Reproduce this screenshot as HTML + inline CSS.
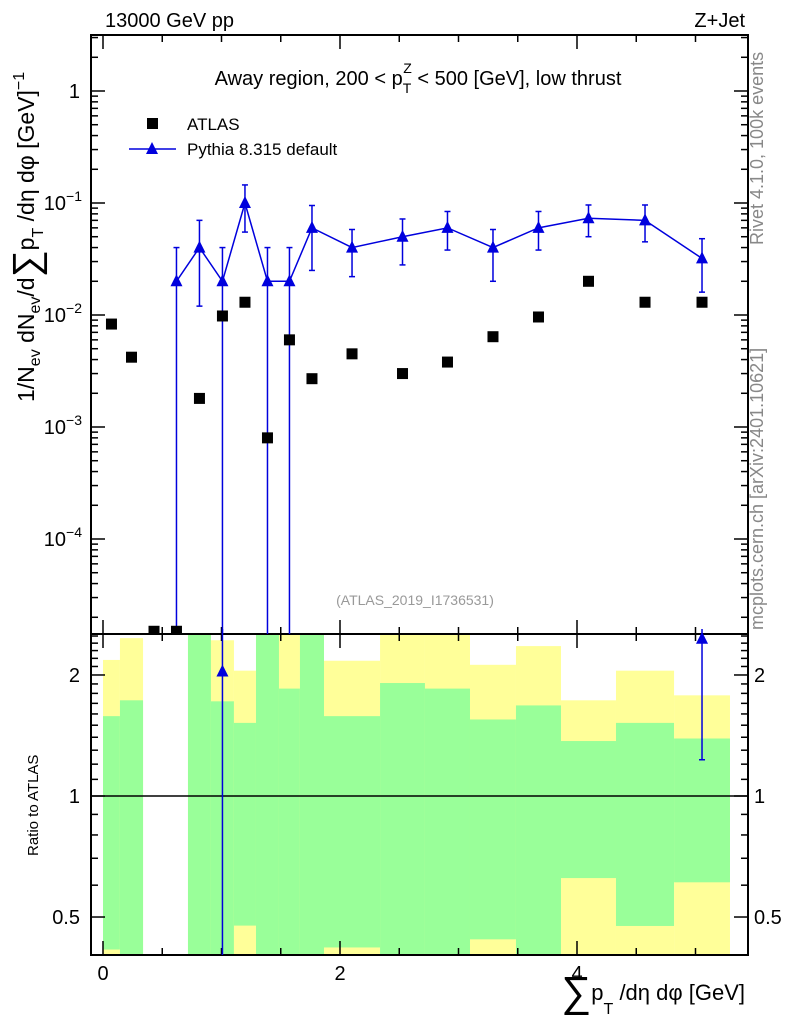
<!DOCTYPE html>
<html><head><meta charset="utf-8"><style>
body{margin:0;background:#fff;}
svg text{font-family:"Liberation Sans",sans-serif;}
</style></head><body>
<svg id="c" width="786" height="1024" xmlns="http://www.w3.org/2000/svg"></svg>
<script>
const binEdges=[0,0.143,0.338,0.523,0.717,0.911,1.105,1.291,1.485,1.662,1.865,2.338,2.717,3.097,3.485,3.865,4.329,4.819,5.291];
const atlasVals=[8.3e-3,4.2e-3,1.5e-5,1.5e-5,1.8e-3,9.8e-3,1.3e-2,8e-4,6e-3,2.7e-3,4.5e-3,3e-3,3.8e-3,6.4e-3,9.6e-3,2e-2,1.3e-2,1.3e-2];
const pyVals=[null,null,null,2e-2,4e-2,2e-2,1e-1,2e-2,2e-2,6e-2,4e-2,5e-2,6e-2,4e-2,6e-2,7.3e-2,7e-2,3.2e-2];
const pyUp=[null,null,null,4e-2,7e-2,4e-2,1.45e-1,4e-2,4e-2,9.5e-2,5.8e-2,7.2e-2,8.4e-2,5.8e-2,8.4e-2,9.6e-2,9.6e-2,4.8e-2];
const pyDn=[null,null,null,0,1.2e-2,0,5.5e-2,0,0,2.5e-2,2.2e-2,2.8e-2,3.8e-2,2e-2,3.8e-2,5e-2,4.5e-2,1.6e-2];
const yelTop=[2.18,2.47,null,null,3,2.44,2.05,3,3,3,2.17,3,3,2.12,2.36,1.73,2.05,1.78];
const grnTop=[1.58,1.73,null,null,3,1.72,1.52,3,1.85,3,1.58,1.91,1.85,1.55,1.68,1.37,1.52,1.39];
const grnBot=[0.415,0.3,null,null,0.3,0.3,0.476,0.3,0.3,0.3,0.42,0.3,0.3,0.44,0.3,0.625,0.475,0.61];
const yelBot=[0.3,0.3,null,null,0.3,0.3,0.3,0.3,0.3,0.3,0.3,0.3,0.3,0.3,0.3,0.3,0.3,0.3];
const xTicks=[0,2,4];
const mainTicks=[0,-1,-2,-3,-4];
const ratioTicks=[0.5,1,2];

const L=91,R=748,T=35,MB=634,RB=955;
const X=v=>103+118.5*v;
const Y=v=>91-112*Math.log10(v);
const YR=r=>796-402*Math.log10(r);
const NS="http://www.w3.org/2000/svg";
const svg=document.getElementById('c');
function mk(tag,at,parent){const e=document.createElementNS(NS,tag);for(const k in at)e.setAttribute(k,at[k]);(parent||svg).appendChild(e);return e;}
const clamp=(v,a,b)=>Math.max(a,Math.min(b,v));

for(let i=0;i<binEdges.length-1;i++){
  if(yelTop[i]===null)continue;
  const x0=X(binEdges[i]),x1=X(binEdges[i+1]);
  const yt=clamp(YR(yelTop[i]),MB,RB),yb=clamp(YR(yelBot[i]),MB,RB);
  const y=mk('rect',{x:x0,y:yt,width:x1-x0,height:yb-yt,fill:'#ffff99'});
  
  
  const gt=clamp(YR(grnTop[i]),MB,RB),gb=clamp(YR(grnBot[i]),MB,RB);
  const g=mk('rect',{x:x0,y:gt,width:x1-x0,height:gb-gt,fill:'#99ff99'});
  
  
}
mk('line',{x1:L,x2:R,y1:YR(1),y2:YR(1),stroke:'#000','stroke-width':1.5});

mk('rect',{x:L,y:T,width:R-L,height:MB-T,fill:'none',stroke:'#000','stroke-width':2});
mk('rect',{x:L,y:MB,width:R-L,height:RB-MB,fill:'none',stroke:'#000','stroke-width':2});

for(let v=0;v<=5.3;v+=0.5){
  const maj=Math.abs(v/2-Math.round(v/2))<1e-6;
  const len=maj?14:7;
  [[T,1],[MB,-1],[MB,1],[RB,-1]].forEach(([y0,d])=>mk('line',{x1:X(v),x2:X(v),y1:y0,y2:y0+d*len,stroke:'#000','stroke-width':1.5}));
}
xTicks.forEach(v=>{const t=mk('text',{x:X(v),y:980,'font-size':20,'text-anchor':'middle'});t.textContent=v;
});

for(let d=-5;d<=0;d++){for(let m=1;m<10;m++){const v=m*Math.pow(10,d);const y=Y(v);if(y<T||y>MB)continue;
 const len=m==1?14:7;mk('line',{x1:L,x2:L+len,y1:y,y2:y,stroke:'#000','stroke-width':1.5});mk('line',{x1:R,x2:R-len,y1:y,y2:y,stroke:'#000','stroke-width':1.5});}}
mainTicks.forEach(d=>{const t=mk('text',{x:d==0?80:82,y:Y(Math.pow(10,d))+7,'font-size':20,'text-anchor':'end'});
 if(d==0)t.textContent='1';else{t.textContent='10';const s=mk('tspan',{dy:-9,'font-size':14},t);s.textContent='\u2212'+(-d);}
 });

for(let r=0.4;r<=2.55;r+=0.1){const y=YR(r);if(y<MB||y>RB)continue;
 const maj=[0.5,1,2].some(v=>Math.abs(v-r)<1e-6);const len=maj?14:7;
 mk('line',{x1:L,x2:L+len,y1:y,y2:y,stroke:'#000','stroke-width':1.5});mk('line',{x1:R,x2:R-len,y1:y,y2:y,stroke:'#000','stroke-width':1.5});}
ratioTicks.forEach(r=>{[[80,'end'],[754,'start']].forEach(([x,a])=>{const t=mk('text',{x:x,y:YR(r)+7,'font-size':20,'text-anchor':a});t.textContent=r;
 });});

const clipM=mk('clipPath',{id:'cm'});mk('rect',{x:L,y:T,width:R-L,height:MB-T},clipM);
const gM=mk('g',{'clip-path':'url(#cm)'});
const cx=i=>X((binEdges[i]+binEdges[i+1])/2);
let pts=[];
pyVals.forEach((v,i)=>{if(v===null)return;pts.push(cx(i)+','+Y(v));});
const pl=mk('polyline',{points:pts.join(' '),fill:'none',stroke:'#0000dd','stroke-width':1.5},gM);

pyVals.forEach((v,i)=>{if(v===null)return;const x=cx(i);
 const yu=Y(pyUp[i]),yd=pyDn[i]>0?Y(pyDn[i]):MB+10;
 mk('line',{x1:x,x2:x,y1:yu,y2:yd,stroke:'#0000dd','stroke-width':1.5},gM);
 mk('line',{x1:x-3,x2:x+3,y1:yu,y2:yu,stroke:'#0000dd','stroke-width':1.5},gM);
 if(pyDn[i]>0)mk('line',{x1:x-3,x2:x+3,y1:yd,y2:yd,stroke:'#0000dd','stroke-width':1.5},gM);
 const y=Y(v);const p=mk('polygon',{points:`${x-6},${y+5} ${x+6},${y+5} ${x},${y-7}`,fill:'#0000dd'},gM);
 });
atlasVals.forEach((v,i)=>{const x=cx(i),y=Y(v);const r=mk('rect',{x:x-5.5,y:y-5.5,width:11,height:11,fill:'#000'},gM);
 });

const clipR=mk('clipPath',{id:'cr'});mk('rect',{x:L,y:MB-8,width:R-L,height:RB-MB+8},clipR);
const gR=mk('g',{'clip-path':'url(#cr)'});
pyVals.forEach((v,i)=>{if(v===null)return;const a=atlasVals[i];const x=cx(i);
 const y=YR(v/a);
 if(y<MB-6||y>RB)return;
 const yu=YR(pyUp[i]/a),yd=pyDn[i]>0?YR(pyDn[i]/a):RB+10;
 mk('line',{x1:x,x2:x,y1:Math.max(yu,MB-5),y2:yd,stroke:'#0000dd','stroke-width':1.5},gR);
 if(pyDn[i]>0)mk('line',{x1:x-3,x2:x+3,y1:yd,y2:yd,stroke:'#0000dd','stroke-width':1.5},gR);
 const p=mk('polygon',{points:`${x-6},${y+5} ${x+6},${y+5} ${x},${y-7}`,fill:'#0000dd'},gR);
 });
</script>
<svg width="786" height="1024" style="position:absolute;left:0;top:0" xmlns="http://www.w3.org/2000/svg">
<text x="105" y="27" font-size="20">13000 GeV pp</text>
<text x="745" y="27" font-size="20" text-anchor="end">Z+Jet</text>
<text x="418" y="85" font-size="20" text-anchor="middle">Away region, 200 &lt; p<tspan font-size="14" dy="8">T</tspan><tspan font-size="14" dx="-8" dy="-20">Z</tspan><tspan dy="12"> &lt; 500 [GeV], low thrust</tspan></text>
<rect x="147" y="118" width="11" height="11" fill="#000"/>
<text x="187" y="130" font-size="17">ATLAS</text>
<line x1="129" x2="176" y1="149" y2="149" stroke="#0000dd" stroke-width="1.5"/>
<polygon points="146,154 158,154 152,142" fill="#0000dd"/>
<text x="187" y="155" font-size="17">Pythia 8.315 default</text>
<text x="415" y="605" font-size="14" fill="#999" text-anchor="middle">(ATLAS_2019_I1736531)</text>
<text transform="translate(763,245) rotate(-90)" font-size="18" fill="#888">Rivet 4.1.0,  100k events</text>
<text transform="translate(763,630) rotate(-90)" font-size="18" fill="#888">mcplots.cern.ch [arXiv:2401.10621]</text>
<text transform="translate(34,402) rotate(-90)" font-size="23">1/N<tspan font-size="16" dy="6">ev</tspan><tspan dy="-6"> dN</tspan><tspan font-size="16" dy="6">ev</tspan><tspan dy="-6">/d</tspan><tspan font-size="38" dy="5">∑</tspan><tspan dy="-5">p</tspan><tspan font-size="16" dy="9">T</tspan><tspan dy="-9"> /dη dφ  [GeV]</tspan><tspan font-size="16" dy="-10">−1</tspan></text>
<text transform="translate(38,856) rotate(-90)" font-size="15">Ratio to ATLAS</text>
<text x="745" y="1000" font-size="22" text-anchor="end"><tspan font-size="42" dy="6">∑</tspan><tspan dy="-6">p</tspan><tspan font-size="16" dy="14">T</tspan><tspan dy="-14"> /dη dφ [GeV]</tspan></text>
</svg>
</body></html>
